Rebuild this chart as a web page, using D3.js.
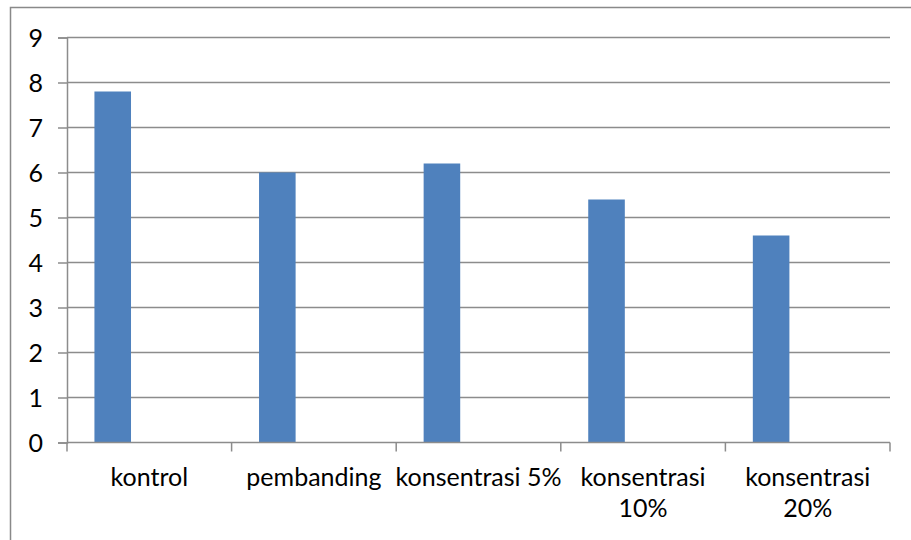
<!DOCTYPE html>
<html>
<head>
<meta charset="utf-8">
<script src="https://cdn.jsdelivr.net/npm/d3@7/dist/d3.min.js"></script>
<style>
  html, body { margin: 0; padding: 0; background: #fff; }
  svg { display: block; }
  text { font-family: Lato, "Open Sans", sans-serif; fill: #000; }
</style>
</head>
<body>
<svg id="chart" width="911" height="540"></svg>
<script>
// Treatment groups and measured values
const categories = ["kontrol", "pembanding", "konsentrasi 5%", "konsentrasi 10%", "konsentrasi 20%"];
const categoryLabelLines = [["kontrol"], ["pembanding"], ["konsentrasi 5%"], ["konsentrasi", "10%"], ["konsentrasi", "20%"]];
const values = [7.8, 6.0, 6.2, 5.4, 4.6];
// series slots per category (only the first one carries data)
const seriesSlots = ["Series1", "Series2", "Series3"];
const yTicks = [0, 1, 2, 3, 4, 5, 6, 7, 8, 9];

const W = 911, H = 540;
const margin = { left: 67, right: 21, top: 37.5, bottom: 97.5 };
const plotW = W - margin.left - margin.right;
const plotH = H - margin.top - margin.bottom;

const svg = d3.select("#chart");

// outer chart frame
svg.append("rect")
  .attr("x", 10.5).attr("y", 7.5)
  .attr("width", 920).attr("height", 560)
  .attr("fill", "none").attr("stroke", "#898989").attr("stroke-width", 1.5);

const g = svg.append("g").attr("transform", `translate(${margin.left},${margin.top})`);

const x = d3.scaleBand().domain(categories).range([0, plotW]).padding(0);
// gap width 150%: three slot bands fill the rest of each category
const slotW = x.bandwidth() / (seriesSlots.length + 1.5);
const xs = d3.scaleBand().domain(seriesSlots)
  .range([slotW * 0.75, x.bandwidth() - slotW * 0.75]).padding(0);
const y = d3.scaleLinear().domain([0, 9]).range([plotH, 0]);

// horizontal gridlines
g.append("g")
  .selectAll("line").data(yTicks.filter(d => d > 0)).join("line")
  .attr("x1", 0).attr("x2", plotW)
  .attr("y1", d => y(d)).attr("y2", d => y(d))
  .attr("stroke", "#8c8c8c").attr("stroke-width", 1.5);

// y axis
const yAxis = g.append("g")
  .call(d3.axisLeft(y).tickValues(yTicks).tickSize(9).tickPadding(15).tickFormat(d3.format("d")));
yAxis.select(".domain").attr("stroke", "#8c8c8c").attr("stroke-width", 1.5);
yAxis.selectAll(".tick line").attr("stroke", "#8c8c8c").attr("stroke-width", 1.5);
yAxis.selectAll(".tick text")
  .style("font-size", "25px").attr("dy", "0.36em");

// bars
g.append("g")
  .selectAll("rect").data(values).join("rect")
  .attr("x", (d, i) => x(categories[i]) + xs("Series1"))
  .attr("width", xs.bandwidth())
  .attr("y", d => y(d))
  .attr("height", d => plotH - y(d))
  .attr("fill", "#4f81bd");

// x axis baseline and category boundary ticks
g.append("line")
  .attr("x1", 0).attr("x2", plotW)
  .attr("y1", plotH).attr("y2", plotH)
  .attr("stroke", "#8c8c8c").attr("stroke-width", 1.5);
const boundaries = categories.map(c => x(c)).concat([plotW]);
g.append("g")
  .selectAll("line").data(boundaries).join("line")
  .attr("x1", d => d).attr("x2", d => d)
  .attr("y1", plotH).attr("y2", plotH + 9)
  .attr("stroke", "#8c8c8c").attr("stroke-width", 1.5);

// category labels
const labels = g.append("g")
  .selectAll("text").data(categories).join("text")
  .attr("text-anchor", "middle")
  .style("font-size", "25px")
  .attr("transform", c => `translate(${x(c) + x.bandwidth() / 2},${plotH + 43})`);
labels.selectAll("tspan")
  .data((c, i) => categoryLabelLines[i])
  .join("tspan")
  .attr("x", 0)
  .attr("y", (d, j) => j * 31)
  .text(d => d);
</script>
</body>
</html>
